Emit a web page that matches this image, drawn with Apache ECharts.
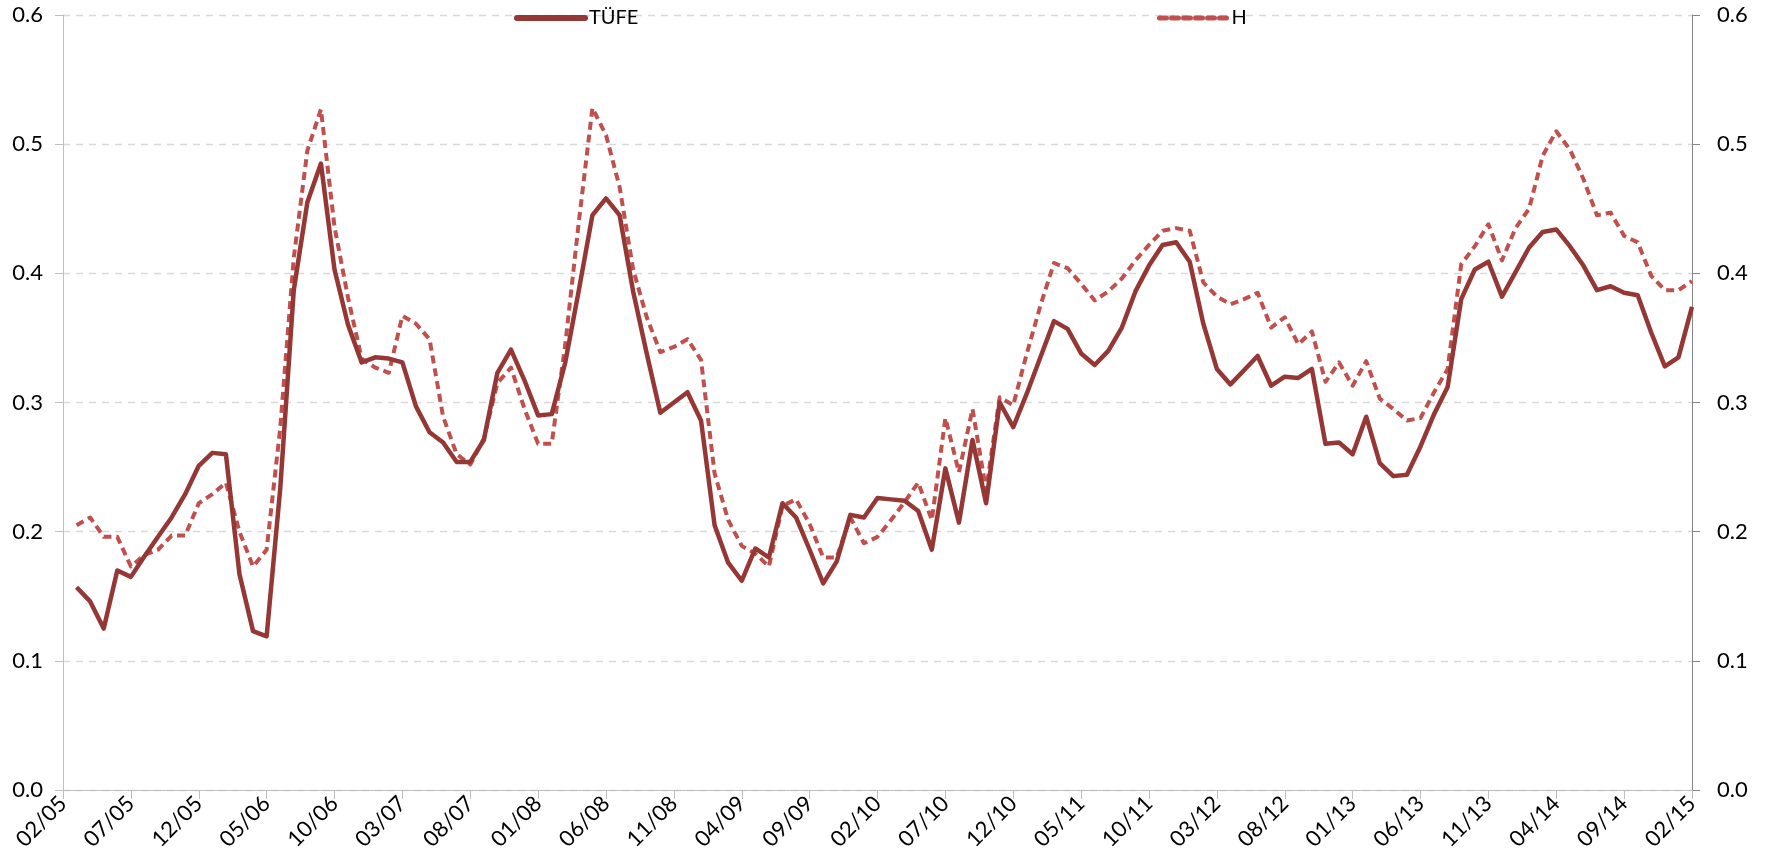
<!DOCTYPE html>
<html>
<head>
<meta charset="utf-8">
<script src="https://cdn.jsdelivr.net/npm/echarts@6/dist/echarts.min.js"></script>
<style>
html,body{margin:0;padding:0;background:#fff;}
#chart{width:1775px;height:867px;}
</style>
</head>
<body>
<div id="chart"></div>
<script>
// Monthly categories 02/05 .. 02/15
var categories = [];
for (var y = 5; y <= 15; y++) {
  for (var m = 1; m <= 12; m++) {
    if ((y === 5 && m < 2) || (y === 15 && m > 2)) continue;
    categories.push((m < 10 ? '0' + m : '' + m) + '/' + (y < 10 ? '0' + y : '' + y));
  }
}

var seriesNames = ['TÜFE', 'H'];

var tufe = [null,
  0.157,0.146,0.125,0.170,0.165,0.181,0.196,0.211,0.229,0.251,
  0.261,0.260,0.167,0.123,0.119,0.233,0.387,0.455,0.485,0.403,
  0.360,0.331,0.335,0.334,0.331,0.297,0.277,0.269,0.254,0.254,
  0.271,0.323,0.341,0.317,0.290,0.291,0.331,0.387,0.445,0.458,
  0.445,0.386,0.338,0.292,0.300,0.308,0.286,0.205,0.176,0.162,
  0.187,0.180,0.222,0.211,0.186,0.160,0.177,0.213,0.211,0.226,
  0.225,0.224,0.216,0.186,0.249,0.207,0.271,0.222,0.300,0.281,
  0.307,0.335,0.363,0.357,0.338,0.329,0.340,0.358,0.386,0.406,
  0.422,0.424,0.409,0.361,0.326,0.314,0.325,0.336,0.313,0.320,
  0.319,0.326,0.268,0.269,0.260,0.289,0.253,0.243,0.244,0.266,
  0.291,0.312,0.380,0.403,0.409,0.382,0.401,0.420,0.432,0.434,
  0.421,0.406,0.387,0.390,0.385,0.383,0.354,0.328,0.335,0.374];

var hSeries = [null,
  0.205,0.211,0.196,0.196,0.173,0.182,0.186,0.197,0.197,0.222,
  0.229,0.238,0.200,0.173,0.186,0.280,0.412,0.495,0.527,0.436,
  0.381,0.334,0.327,0.323,0.367,0.361,0.349,0.289,0.260,0.252,
  0.272,0.315,0.327,0.295,0.268,0.268,0.345,0.440,0.528,0.507,
  0.467,0.403,0.366,0.339,0.343,0.349,0.333,0.245,0.209,0.189,
  0.183,0.173,0.220,0.225,0.206,0.180,0.180,0.211,0.191,0.196,
  0.209,0.223,0.238,0.209,0.288,0.246,0.295,0.232,0.304,0.298,
  0.338,0.375,0.408,0.404,0.392,0.379,0.386,0.396,0.410,0.422,
  0.433,0.435,0.433,0.393,0.382,0.376,0.380,0.385,0.358,0.366,
  0.345,0.355,0.316,0.331,0.313,0.332,0.303,0.295,0.286,0.288,
  0.308,0.326,0.407,0.421,0.438,0.410,0.435,0.450,0.491,0.510,
  0.496,0.473,0.445,0.447,0.429,0.424,0.398,0.387,0.387,0.394];

var yTicks = [0, 0.1, 0.2, 0.3, 0.4, 0.5, 0.6];

var FONT = 'Lato';
var chart = echarts.init(document.getElementById('chart'), null, {renderer: 'canvas'});

var yAxisBase = function (pos, margin, lineColor) {
  return {
    type: 'value',
    position: pos,
    min: yTicks[0],
    max: yTicks[yTicks.length - 1],
    interval: 0.1,
    axisLine: {show: true, lineStyle: {color: lineColor, width: 1}},
    axisTick: {show: true, inside: false, length: 8, lineStyle: {color: lineColor}},
    axisLabel: {
      margin: margin,
      color: '#000',
      fontFamily: FONT,
      fontSize: 22,
      formatter: function (v) { return v.toFixed(1); }
    },
    splitLine: pos === 'left' ? {show: true, lineStyle: {color: '#D9D9D9', type: [7, 6], width: 1.3}} : {show: false}
  };
};

var legendBase = function (name, left, lw, ltype) {
  return {
    data: [name], left: left, top: 3, itemWidth: 68, itemHeight: 22, itemGap: 6,
    itemStyle: {opacity: 0},
    lineStyle: {width: lw, type: ltype, cap: 'round'},
    textStyle: {fontFamily: FONT, fontSize: 20, color: '#000', padding: [0, 0, 0, -1]}
  };
};

chart.setOption({
  animation: false,
  backgroundColor: '#fff',
  grid: {left: 63, right: 83, top: 15, bottom: 77, containLabel: false},
  legend: [
    legendBase(seriesNames[0], 509, 6, 'solid'),
    legendBase(seriesNames[1], 1152, 5, [7, 5])
  ],
  xAxis: {
    type: 'category',
    data: categories,
    boundaryGap: false,
    axisLine: {show: true, lineStyle: {color: '#BFBFBF', width: 1}},
    axisTick: {show: true, interval: 4, length: 9, lineStyle: {color: '#BFBFBF'}},
    axisLabel: {
      interval: 4,
      rotate: 45,
      margin: 10,
      color: '#000',
      fontFamily: FONT,
      fontSize: 22
    },
    splitLine: {show: false}
  },
  yAxis: [yAxisBase('left', 20, '#BFBFBF'), yAxisBase('right', 25, '#868686')],
  series: [
    {
      name: seriesNames[0], type: 'line', data: tufe, yAxisIndex: 0,
      symbol: 'none', showSymbol: false, connectNulls: false,
      lineStyle: {color: '#953735', width: 4.5, type: 'solid', join: 'round'},
      itemStyle: {color: '#953735'},
      z: 3
    },
    {
      name: seriesNames[1], type: 'line', data: hSeries, yAxisIndex: 0,
      symbol: 'none', showSymbol: false, connectNulls: false,
      lineStyle: {color: '#C0504D', width: 4, type: [8, 5], join: 'round'},
      itemStyle: {color: '#C0504D'},
      z: 2
    }
  ]
});
</script>
</body>
</html>
